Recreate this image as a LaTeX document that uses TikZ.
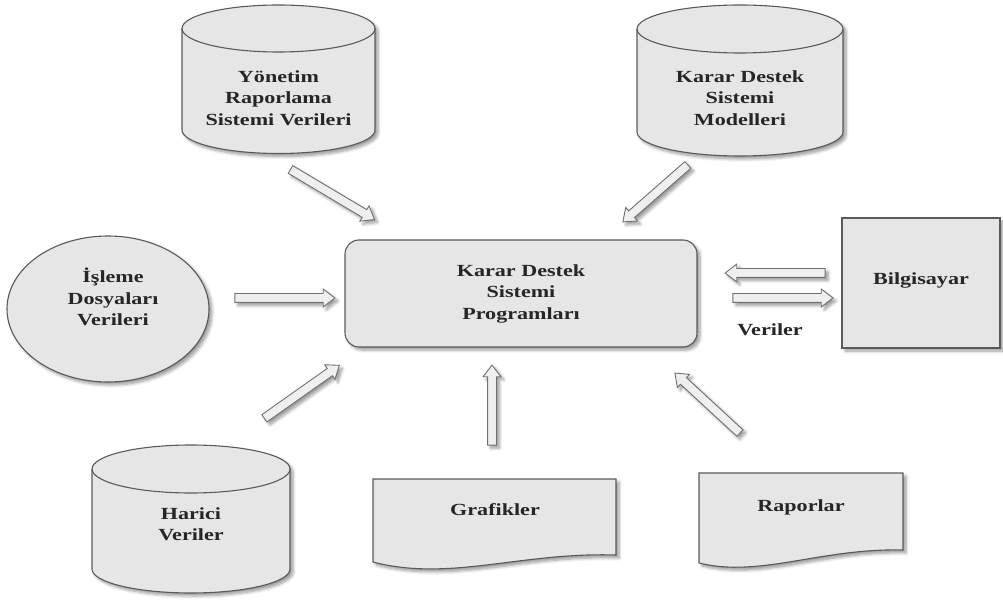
\documentclass[tikz,border=0pt]{standalone}
\usepackage{fontspec}
\setmainfont{Liberation Serif}[FakeStretch=1.3]
\usetikzlibrary{shapes.geometric,shapes.arrows,shadows.blur,calc}

\definecolor{shapefill}{HTML}{E6E6E6}
\definecolor{shapeline}{HTML}{5A5A5A}
\definecolor{arrowfill}{HTML}{EFEFEF}
\definecolor{arrowline}{HTML}{707070}
\definecolor{textcol}{HTML}{262626}

\tikzset{
  softshadow/.style={blur shadow={shadow xshift=3pt,shadow yshift=-3pt,
      shadow blur radius=3pt,shadow blur steps=6,shadow opacity=40}},
  shapebox/.style={draw=shapeline,line width=1.1pt,fill=shapefill,softshadow},
  lbl/.style={align=center,text=textcol,font=\fontsize{17}{21.5}\selectfont\bfseries,inner sep=0pt},
  blockarrow/.style={single arrow,draw=arrowline,fill=arrowfill,line width=0.9pt,
      inner sep=4pt,minimum width=17pt,single arrow head extend=4.5pt,
      single arrow tip angle=75,outer sep=0pt,softshadow},
}

% cylinder: centre x, top-centre y, bottom-centre y, x radius, y radius (y measured downwards)
\newcommand\drum[5]{%
  \path[shapebox] (#1-#4,-#2) -- (#1-#4,-#3)
     arc[start angle=180,end angle=360,x radius=#4,y radius=#5]
     -- (#1+#4,-#2)
     arc[start angle=0,end angle=180,x radius=#4,y radius=#5] -- cycle;
  \draw[draw=shapeline,line width=1.1pt] (#1-#4,-#2)
     arc[start angle=180,end angle=360,x radius=#4,y radius=#5];
}

% hollow block arrow from one named point to another
\newcommand\flowarrow[2]{%
  \path let \p1=(#1), \p2=(#2),
     \n1={atan2(\y2-\y1,\x2-\x1)}, \n2={veclen(\x2-\x1,\y2-\y1)} in
     node[blockarrow,minimum height=\n2,rotate=\n1] at ($(#1)!0.5!(#2)$) {};
}

\begin{document}
\begin{tikzpicture}[x=1pt,y=1pt]
\useasboundingbox (0,0) rectangle (1003,-601);

% databases
\drum{278.5}{28.5}{130}{96.5}{23.5}
\node[lbl] (yrs) at (278.5,-98) {Yönetim\\Raporlama\\Sistemi Verileri};

\drum{740}{29}{132}{103}{24}
\node[lbl] (kdsm) at (740,-98) {Karar Destek\\Sistemi\\Modelleri};

\drum{191}{469}{569}{99}{24}
\node[lbl] (hv) at (191,-524) {Harici\\Veriler};

% transaction files
\node[ellipse,shapebox,minimum width=202pt,minimum height=146pt] (isl) at (108,-309) {};
\node[lbl] (isltext) at (113,-297) {İşleme\\Dosyaları\\Verileri};

% central programs box
\node[shapebox,rounded corners=14pt,minimum width=352pt,minimum height=107pt,lbl,draw=shapeline,line width=1.1pt,inner sep=0pt] (kdsp) at (521,-293.5)
  {Karar Destek\\Sistemi\\Programları};

% computer
\node[shapebox,minimum width=158pt,minimum height=130pt] (pc) at (921,-283) {};
\node[lbl] (pctext) at (921,-280) {Bilgisayar};
\node[lbl] (veri) at (770,-330) {Veriler};

% documents
\path[shapebox] (373,-479) -- (616,-479) -- (616,-555)
   .. controls (520,-552) and (450,-582) .. (373,-562) -- cycle;
\node[lbl] (graf) at (495,-510) {Grafikler};

\path[shapebox] (699,-473) -- (903,-473) -- (903,-550)
   .. controls (820,-548) and (760,-578) .. (699,-563) -- cycle;
\node[lbl] (rap) at (801,-507) {Raporlar};

% arrow end points
\coordinate (a1s) at (288,-168);  \coordinate (a1e) at (372,-218);
\coordinate (a2s) at (690,-163);  \coordinate (a2e) at (625,-220);
\coordinate (a3s) at (232,-298);  \coordinate (a3e) at (332,-298);
\coordinate (a4s) at (262,-420);  \coordinate (a4e) at (337,-367);
\coordinate (a5s) at (492,-448);  \coordinate (a5e) at (492,-368);
\coordinate (a6s) at (742,-435);  \coordinate (a6e) at (677,-375);
\coordinate (a7s) at (828,-273);  \coordinate (a7e) at (728,-273);
\coordinate (a8s) at (730,-298);  \coordinate (a8e) at (830,-298);

\flowarrow{a1s}{a1e}
\flowarrow{a2s}{a2e}
\flowarrow{a3s}{a3e}
\flowarrow{a4s}{a4e}
\flowarrow{a5s}{a5e}
\flowarrow{a6s}{a6e}
\flowarrow{a7s}{a7e}
\flowarrow{a8s}{a8e}
\end{tikzpicture}
\end{document}
